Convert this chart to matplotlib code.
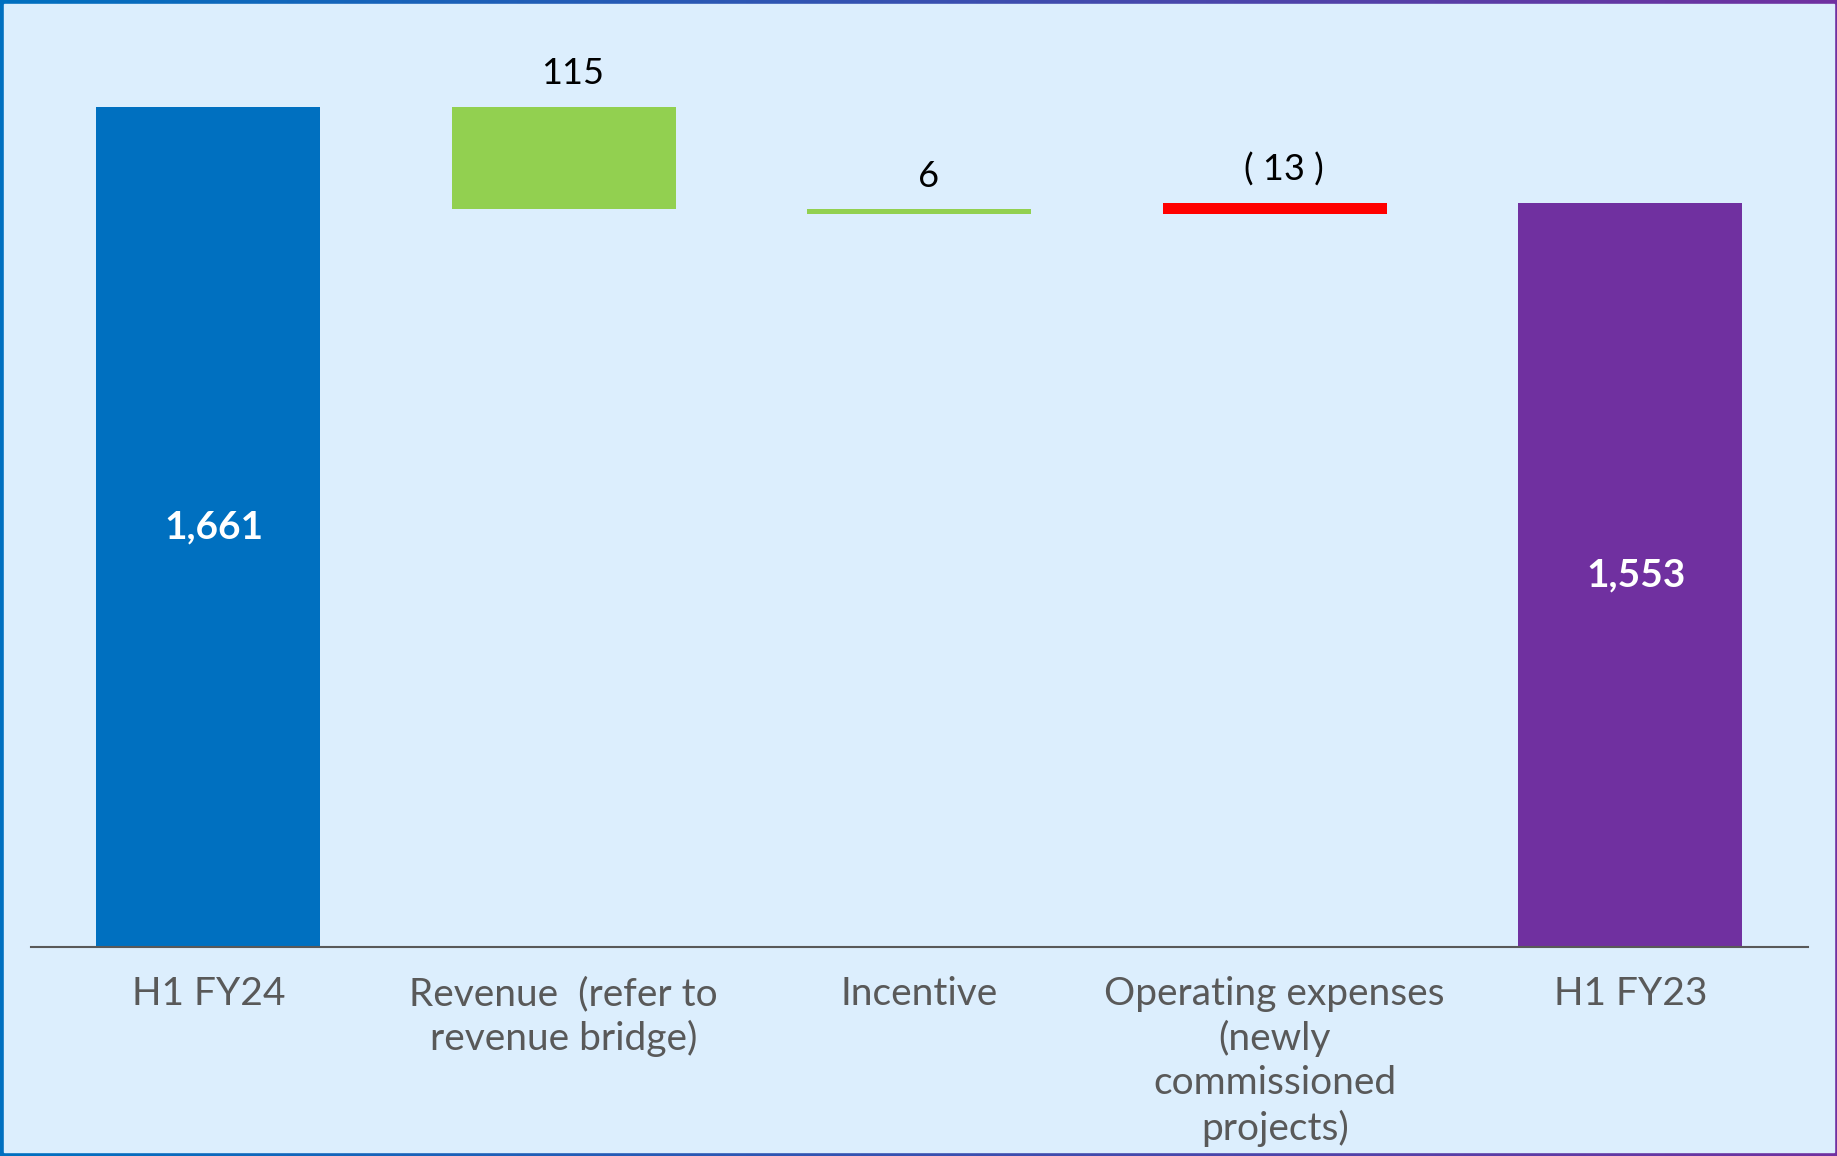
import numpy as np
import matplotlib
matplotlib.use("Agg")
import matplotlib.pyplot as plt
from matplotlib.colors import LinearSegmentedColormap
from matplotlib.patches import Rectangle

# ---- data ----
categories = ["H1 FY24", "Revenue  (refer to\nrevenue bridge)", "Incentive",
              "Operating expenses\n(newly\ncommissioned\nprojects)", "H1 FY23"]
start_total = 1661
deltas = [115, 6, -13]
end_total = 1553
bar_colors = ["#0070C0", "#92D050", "#92D050", "#FF0000", "#7030A0"]

BG = "#DCEEFD"
fig = plt.figure(figsize=(18.37, 11.56), dpi=100)
fig.patch.set_facecolor(BG)

# gradient frame
bg = fig.add_axes([0, 0, 1, 1])
bg.axis("off")
cmap = LinearSegmentedColormap.from_list("frame", ["#0070C0", "#7030A0"])
bg.imshow(np.linspace(0, 1, 256)[None, :], aspect="auto", cmap=cmap,
          extent=[0, 1, 0, 1])
W, H = 1837, 1156
bg.add_patch(Rectangle((4 / W, 4 / H), 1 - 7 / W, 1 - 8 / H, color=BG,
                       transform=bg.transAxes))
bg.set_xlim(0, 1); bg.set_ylim(0, 1)

ax = fig.add_axes([30.5 / W, 0.1808, 1777.5 / W, 0.80])
ax.set_facecolor("none")
ymin, ymax = 716, 1756
ax.set_ylim(ymin, ymax)
ax.set_xlim(-0.5, 4.5)

x = np.arange(len(categories))
width = 0.63
fontfam = ["Lato", "DejaVu Sans"]

# totals
ax.bar(x[0], start_total, width, color=bar_colors[0])
ax.bar(x[4], end_total, width, color=bar_colors[4])
for xi, v in [(x[0], start_total), (x[4], end_total)]:
    ax.text(xi + 0.015, (ymin + v) / 2, f"{v:,}", ha="center", va="center",
            color="white", fontsize=28, fontweight="bold", family=fontfam)

# floating bridge bars
running = start_total
for i, d in enumerate(deltas, start=1):
    new = running - d
    lo, hi = min(running, new), max(running, new)
    ax.bar(x[i], hi - lo, width, bottom=lo, color=bar_colors[i])
    lab = f"{d:,}" if d >= 0 else f"( {abs(d)} )"
    ax.annotate(lab, (x[i] + 0.025, hi), xytext=(0, 16), textcoords="offset points",
                ha="center", va="baseline", fontsize=26, color="black",
                family=fontfam)
    running = new

for s in ["top", "left", "right"]:
    ax.spines[s].set_visible(False)
ax.spines["bottom"].set_color("#595959")
ax.spines["bottom"].set_linewidth(1.5)
ax.set_yticks([])
ax.set_xticks(x)
ax.set_xticklabels(categories, fontsize=28, color="#595959", family=fontfam,
                   linespacing=1.27)
ax.tick_params(axis="x", length=0, pad=21)

fig.savefig("out.png", dpi=100, facecolor=BG)
